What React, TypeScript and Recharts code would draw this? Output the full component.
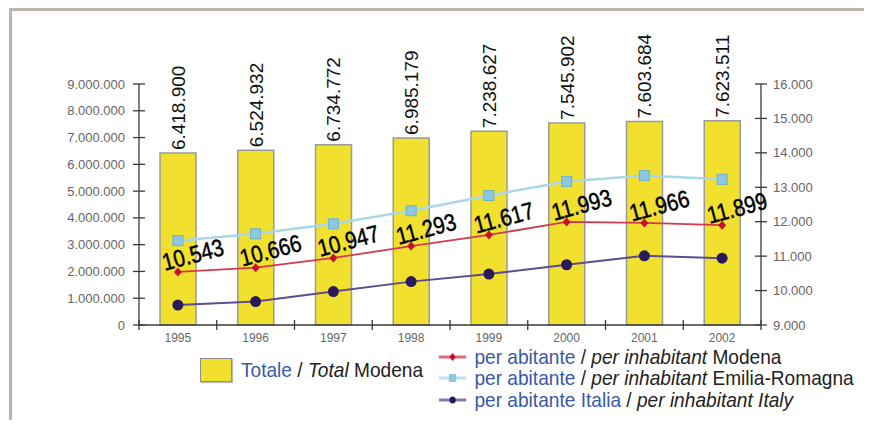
import React from 'react';
import { ComposedChart, Bar, Line, XAxis, YAxis, LabelList } from 'recharts';

const years = ['1995', '1996', '1997', '1998', '1999', '2000', '2001', '2002'];
const totaleModena = [6418900, 6524932, 6734772, 6985179, 7238627, 7545902, 7603684, 7623511];
const perAbitanteModena = [10543, 10666, 10947, 11293, 11617, 11993, 11966, 11899];
const perAbitanteEmilia = [11450, 11650, 11940, 12320, 12760, 13170, 13340, 13230];
const perAbitanteItalia = [9580, 9680, 9970, 10260, 10480, 10750, 11010, 10940];
const leftTicks = [0, 1000000, 2000000, 3000000, 4000000, 5000000, 6000000, 7000000, 8000000, 9000000];
const rightTicks = [9000, 10000, 11000, 12000, 13000, 14000, 15000, 16000];

const data = years.map((year, i) => ({
  year,
  totale: totaleModena[i],
  modena: perAbitanteModena[i],
  emilia: perAbitanteEmilia[i],
  italia: perAbitanteItalia[i],
}));

const SANS = "'Liberation Sans', Arial, sans-serif";
const BLUE = '#3a58a8';
const AXIS = '#3a3a3a';

// thousands with dots, italian style
const fmt = (n: number) => String(Math.round(n)).replace(/\B(?=(\d{3})+(?!\d))/g, '.');

const LeftTick = (props: any) => {
  const { x, y, payload } = props;
  const ax = x + 14;
  return (
    <g>
      <line x1={ax - 6} x2={ax + 6} y1={y} y2={y} stroke={AXIS} strokeWidth={1.3} />
      <text x={ax - 14} y={y} dy={4.5} textAnchor="end" fill="#666" fontSize={13} fontFamily={SANS}>
        {fmt(payload.value)}
      </text>
    </g>
  );
};

const RightTick = (props: any) => {
  const { x, y, payload } = props;
  const ax = x - 12;
  return (
    <g>
      <line x1={ax - 6} x2={ax + 6} y1={y} y2={y} stroke={AXIS} strokeWidth={1.3} />
      <text x={ax + 12} y={y} dy={4.5} textAnchor="start" fill="#666" fontSize={13} fontFamily={SANS}>
        {fmt(payload.value)}
      </text>
    </g>
  );
};

const YearTick = (props: any) => {
  const { x, y, payload, index } = props;
  const ay = y - 7;
  const half = payload.offset || 38.9;
  return (
    <g>
      <line x1={x - half} x2={x - half} y1={ay - 5} y2={ay + 5} stroke={AXIS} strokeWidth={1.3} />
      {index === years.length - 1 && (
        <line x1={x + half} x2={x + half} y1={ay - 5} y2={ay + 5} stroke={AXIS} strokeWidth={1.3} />
      )}
      <text x={x} y={ay + 17} textAnchor="middle" fill="#666" fontSize={12} fontFamily={SANS}>
        {payload.value}
      </text>
    </g>
  );
};

const BarValue = (props: any) => {
  const { x, y, width, value } = props;
  const cx = x + width / 2;
  const cy = y - 3;
  return (
    <text
      x={cx}
      y={cy}
      dy={7}
      transform={`rotate(-90 ${cx} ${cy})`}
      textAnchor="start"
      fill="#111"
      fontSize={19}
      fontFamily={SANS}
    >
      {fmt(value)}
    </text>
  );
};

// Modena point: red diamond plus its tilted value label (last series, so it sits on top)
const ModenaDot = (props: any) => {
  const { cx, cy, payload } = props;
  const lx = cx + 15;
  const ly = cy - 17;
  return (
    <g>
      <path d={`M${cx},${cy - 4.5}L${cx + 4},${cy}L${cx},${cy + 4.5}L${cx - 4},${cy}Z`} fill="#c8102e" />
      <g transform={`translate(${lx} ${ly}) rotate(-15) scale(0.85 1)`}>
        <text
          x={0}
          y={0}
          dominantBaseline="central"
          textAnchor="middle"
          fill="#000"
          stroke="#000"
          strokeWidth={0.5}
          fontSize={24}
          fontFamily={SANS}
        >
          {fmt(payload.modena)}
        </text>
      </g>
    </g>
  );
};

const Square = (props: any) => {
  const { cx, cy } = props;
  return <rect x={cx - 5} y={cy - 5} width={10} height={10} fill="#8cc8e2" stroke="#6fb0d0" strokeWidth={1} />;
};

const Circle = (props: any) => {
  const { cx, cy } = props;
  return <circle cx={cx} cy={cy} r={5.5} fill="#2a1a5c" />;
};

const LegendLine = ({ color, marker }: { color: string; marker: string }) => (
  <svg width={32} height={12} style={{ marginRight: 8, flex: 'none' }}>
    <line x1={1} x2={31} y1={6} y2={6} stroke={color} strokeWidth={3} opacity={0.75} />
    {marker === 'diamond' && <path d="M16,2L19.5,6L16,10L12.5,6Z" fill="#c8102e" />}
    {marker === 'square' && <rect x={12} y={2} width={8} height={8} fill="#8cc8e2" />}
    {marker === 'circle' && <circle cx={16} cy={6} r={3.5} fill="#2a1a5c" />}
  </svg>
);

const rowStyle: React.CSSProperties = {
  position: 'absolute',
  left: 438,
  display: 'flex',
  alignItems: 'center',
  height: 22,
  fontFamily: SANS,
  fontSize: 21,
  color: '#222',
  whiteSpace: 'nowrap',
  transform: 'scaleX(0.91)',
  transformOrigin: 'left center',
};

export default function App() {
  return (
    <div style={{ position: 'relative', width: 872, height: 428, margin: -8, background: '#fff', overflow: 'hidden' }}>
      <div
        style={{
          position: 'absolute',
          left: 9,
          top: 8,
          width: 900,
          height: 440,
          borderTop: '3px solid #bbb2aa',
          borderLeft: '3px solid #bbb2aa',
        }}
      />
      <div style={{ position: 'absolute', left: 0, top: 0 }}>
        <ComposedChart width={872} height={428} data={data} margin={{ top: 84, right: 31, bottom: 73, left: 59 }}>
          <XAxis
            dataKey="year"
            height={30}
            tick={<YearTick />}
            tickLine={false}
            tickSize={5}
            tickMargin={2}
            axisLine={{ stroke: AXIS, strokeWidth: 1.3 }}
            interval={0}
          />
          <YAxis
            yAxisId="left"
            width={80}
            domain={[0, 9000000]}
            ticks={leftTicks}
            tick={<LeftTick />}
            tickLine={false}
            tickSize={6}
            tickMargin={8}
            axisLine={{ stroke: AXIS, strokeWidth: 1.3 }}
            interval={0}
          />
          <YAxis
            yAxisId="right"
            orientation="right"
            width={80}
            domain={[9000, 16000]}
            ticks={rightTicks}
            tick={<RightTick />}
            tickLine={false}
            tickSize={6}
            tickMargin={6}
            axisLine={{ stroke: AXIS, strokeWidth: 1.3 }}
            interval={0}
          />
          <Bar yAxisId="left" dataKey="totale" barSize={36} fill="#f1e12e" stroke="#9a9a9a" strokeWidth={1.5} isAnimationActive={false}>
            <LabelList dataKey="totale" content={<BarValue />} />
          </Bar>
          <Line
            yAxisId="right"
            dataKey="emilia"
            stroke="#a9d6e8"
            strokeWidth={2.5}
            dot={<Square />}
            activeDot={false}
            isAnimationActive={false}
          />
          <Line
            yAxisId="right"
            dataKey="italia"
            stroke="#5d4d8e"
            strokeWidth={2}
            dot={<Circle />}
            activeDot={false}
            isAnimationActive={false}
          />
          <Line
            yAxisId="right"
            dataKey="modena"
            stroke="#d43a4e"
            strokeWidth={1.8}
            dot={<ModenaDot />}
            activeDot={false}
            isAnimationActive={false}
          />
        </ComposedChart>
      </div>

      <div
        style={{
          position: 'absolute',
          left: 200,
          top: 358,
          width: 30,
          height: 22,
          background: '#f1e12e',
          border: '1px solid #8e8e8e',
          boxShadow: '1px 1px 1px #bbb',
        }}
      />
      <div style={{ ...rowStyle, left: 241, top: 359 }}>
        <span style={{ color: BLUE }}>Totale</span>
        <span>&nbsp;/&nbsp;</span>
        <i>Total</i>
        <span>&nbsp;Modena</span>
      </div>

      <div style={{ ...rowStyle, top: 346 }}>
        <LegendLine color="#d43a4e" marker="diamond" />
        <span style={{ color: BLUE }}>per abitante</span>
        <span>&nbsp;/&nbsp;</span>
        <i>per inhabitant</i>
        <span>&nbsp;Modena</span>
      </div>
      <div style={{ ...rowStyle, top: 367 }}>
        <LegendLine color="#a9d6e8" marker="square" />
        <span style={{ color: BLUE }}>per abitante</span>
        <span>&nbsp;/&nbsp;</span>
        <i>per inhabitant</i>
        <span>&nbsp;Emilia-Romagna</span>
      </div>
      <div style={{ ...rowStyle, top: 389 }}>
        <LegendLine color="#5d4d8e" marker="circle" />
        <span style={{ color: BLUE }}>per abitante Italia</span>
        <span>&nbsp;/&nbsp;</span>
        <i>per inhabitant Italy</i>
      </div>
    </div>
  );
}
